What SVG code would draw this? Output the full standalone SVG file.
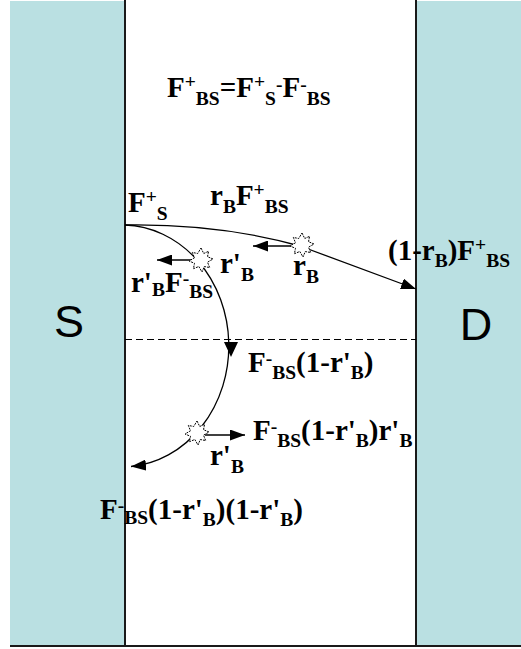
<svg xmlns="http://www.w3.org/2000/svg" width="521" height="649" viewBox="0 0 521 649">
<defs>
<style>
.t{font-family:"Liberation Serif","Times New Roman",serif;font-weight:bold;font-size:29px;fill:#000}
.s{font-size:19.5px}
.big{font-family:"Liberation Sans",Arial,sans-serif;font-size:45px;fill:#000;text-anchor:middle}
.panel{fill:#BAE0E2}
.wall{stroke:#1a1a1a;stroke-width:2;fill:none}
.ln{stroke:#000;stroke-width:1.3;fill:none}
.star{fill:#fff;stroke:#000;stroke-width:1;stroke-dasharray:2 1}
</style>
<marker id="ah" viewBox="0 0 15 11" refX="15" refY="5.5" markerWidth="15" markerHeight="11" markerUnits="userSpaceOnUse" orient="auto">
<path d="M0,0 L15,5.5 L0,11 z" fill="#000"/>
</marker>
<polygon id="burst" points="0,-12 2.7,-6.5 7.6,-8.7 6.5,-3.3 12,-1 6.5,2.2 8.7,7.6 3.3,6.5 1,12 -2.2,6.5 -7.6,8.7 -6.5,3.3 -12,1 -6.5,-2.2 -8.7,-7.6 -3.3,-6.5"/>
</defs>
<rect width="521" height="649" fill="#fff"/>
<g id="panel-S">
<rect class="panel" x="10" y="1" width="115" height="645"/>
<text class="big" x="69" y="337">S</text>
</g>
<g id="panel-D">
<rect class="panel" x="416" y="1" width="105" height="645"/>
<text class="big" x="476" y="340">D</text>
</g>
<g id="walls">
<line class="wall" x1="125" y1="0" x2="125" y2="646"/>
<line class="wall" x1="416" y1="0" x2="416" y2="646"/>
<line class="wall" x1="10" y1="646" x2="521" y2="646"/>
<line x1="125" y1="339.5" x2="416" y2="339.5" stroke="#000" stroke-width="1" stroke-dasharray="7 4"/>
</g>
<g id="connectors">
<path class="ln" d="M125,225 C190,224 250,232 300,246 L416,289" marker-end="url(#ah)"/>
<path class="ln" d="M125,225 A107,121 0 0 1 131,466.5" marker-end="url(#ah)"/>
<polygon points="224,342 238,342 231,357" fill="#000"/>
<line class="ln" x1="292" y1="246" x2="253" y2="246" marker-end="url(#ah)"/>
<line class="ln" x1="192" y1="260" x2="157" y2="260" marker-end="url(#ah)"/>
<line class="ln" x1="205" y1="435" x2="245" y2="435" marker-end="url(#ah)"/>
</g>
<g id="star-rB"><use href="#burst" class="star" transform="translate(302,245)"/></g>
<g id="star-r1"><use href="#burst" class="star" transform="translate(201,260)"/></g>
<g id="star-r2"><use href="#burst" class="star" transform="translate(197,433)"/></g>
<g id="labels">
<text class="t" x="167" y="97">F<tspan class="s" dy="-9">+</tspan><tspan class="s" dy="17">BS</tspan><tspan dy="-8">=F</tspan><tspan class="s" dy="-9">+</tspan><tspan class="s" dy="17">S</tspan><tspan class="s" dy="-14">-</tspan><tspan dy="6">F</tspan><tspan class="s" dy="-6">-</tspan><tspan class="s" dy="14">BS</tspan></text>
<text class="t" x="128" y="212">F<tspan class="s" dy="-9">+</tspan><tspan class="s" dy="17">S</tspan></text>
<text class="t" x="210" y="205">r<tspan class="s" dy="8">B</tspan><tspan dy="-8">F</tspan><tspan class="s" dy="-9">+</tspan><tspan class="s" dy="17">BS</tspan></text>
<text class="t" x="293" y="275">r<tspan class="s" dy="8">B</tspan></text>
<text class="t" x="388" y="260">(1-r<tspan class="s" dy="7">B</tspan><tspan dy="-7">)F</tspan><tspan class="s" dy="-9">+</tspan><tspan class="s" dy="16">BS</tspan></text>
<text class="t" x="220" y="273">r'<tspan class="s" dy="8">B</tspan></text>
<text class="t" x="131" y="292">r'<tspan class="s" dy="4">B</tspan><tspan dy="-4">F</tspan><tspan class="s" dy="-7">-</tspan><tspan class="s" dy="13">BS</tspan></text>
<text class="t" x="248" y="372">F<tspan class="s" dy="-7">-</tspan><tspan class="s" dy="14">BS</tspan><tspan dy="-7">(1-r'</tspan><tspan class="s" dy="7">B</tspan><tspan dy="-7">)</tspan></text>
<text class="t" x="253" y="440">F<tspan class="s" dy="-7">-</tspan><tspan class="s" dy="14">BS</tspan><tspan dy="-7">(1-r'</tspan><tspan class="s" dy="7">B</tspan><tspan dy="-7">)r'</tspan><tspan class="s" dy="7">B</tspan></text>
<text class="t" x="210" y="465">r'<tspan class="s" dy="8">B</tspan></text>
<text class="t" x="100" y="519">F<tspan class="s" dy="-7">-</tspan><tspan class="s" dy="12">BS</tspan><tspan dy="-5">(1-r'</tspan><tspan class="s" dy="7">B</tspan><tspan dy="-7">)(1-r'</tspan><tspan class="s" dy="7">B</tspan><tspan dy="-7">)</tspan></text>
</g>
</svg>
